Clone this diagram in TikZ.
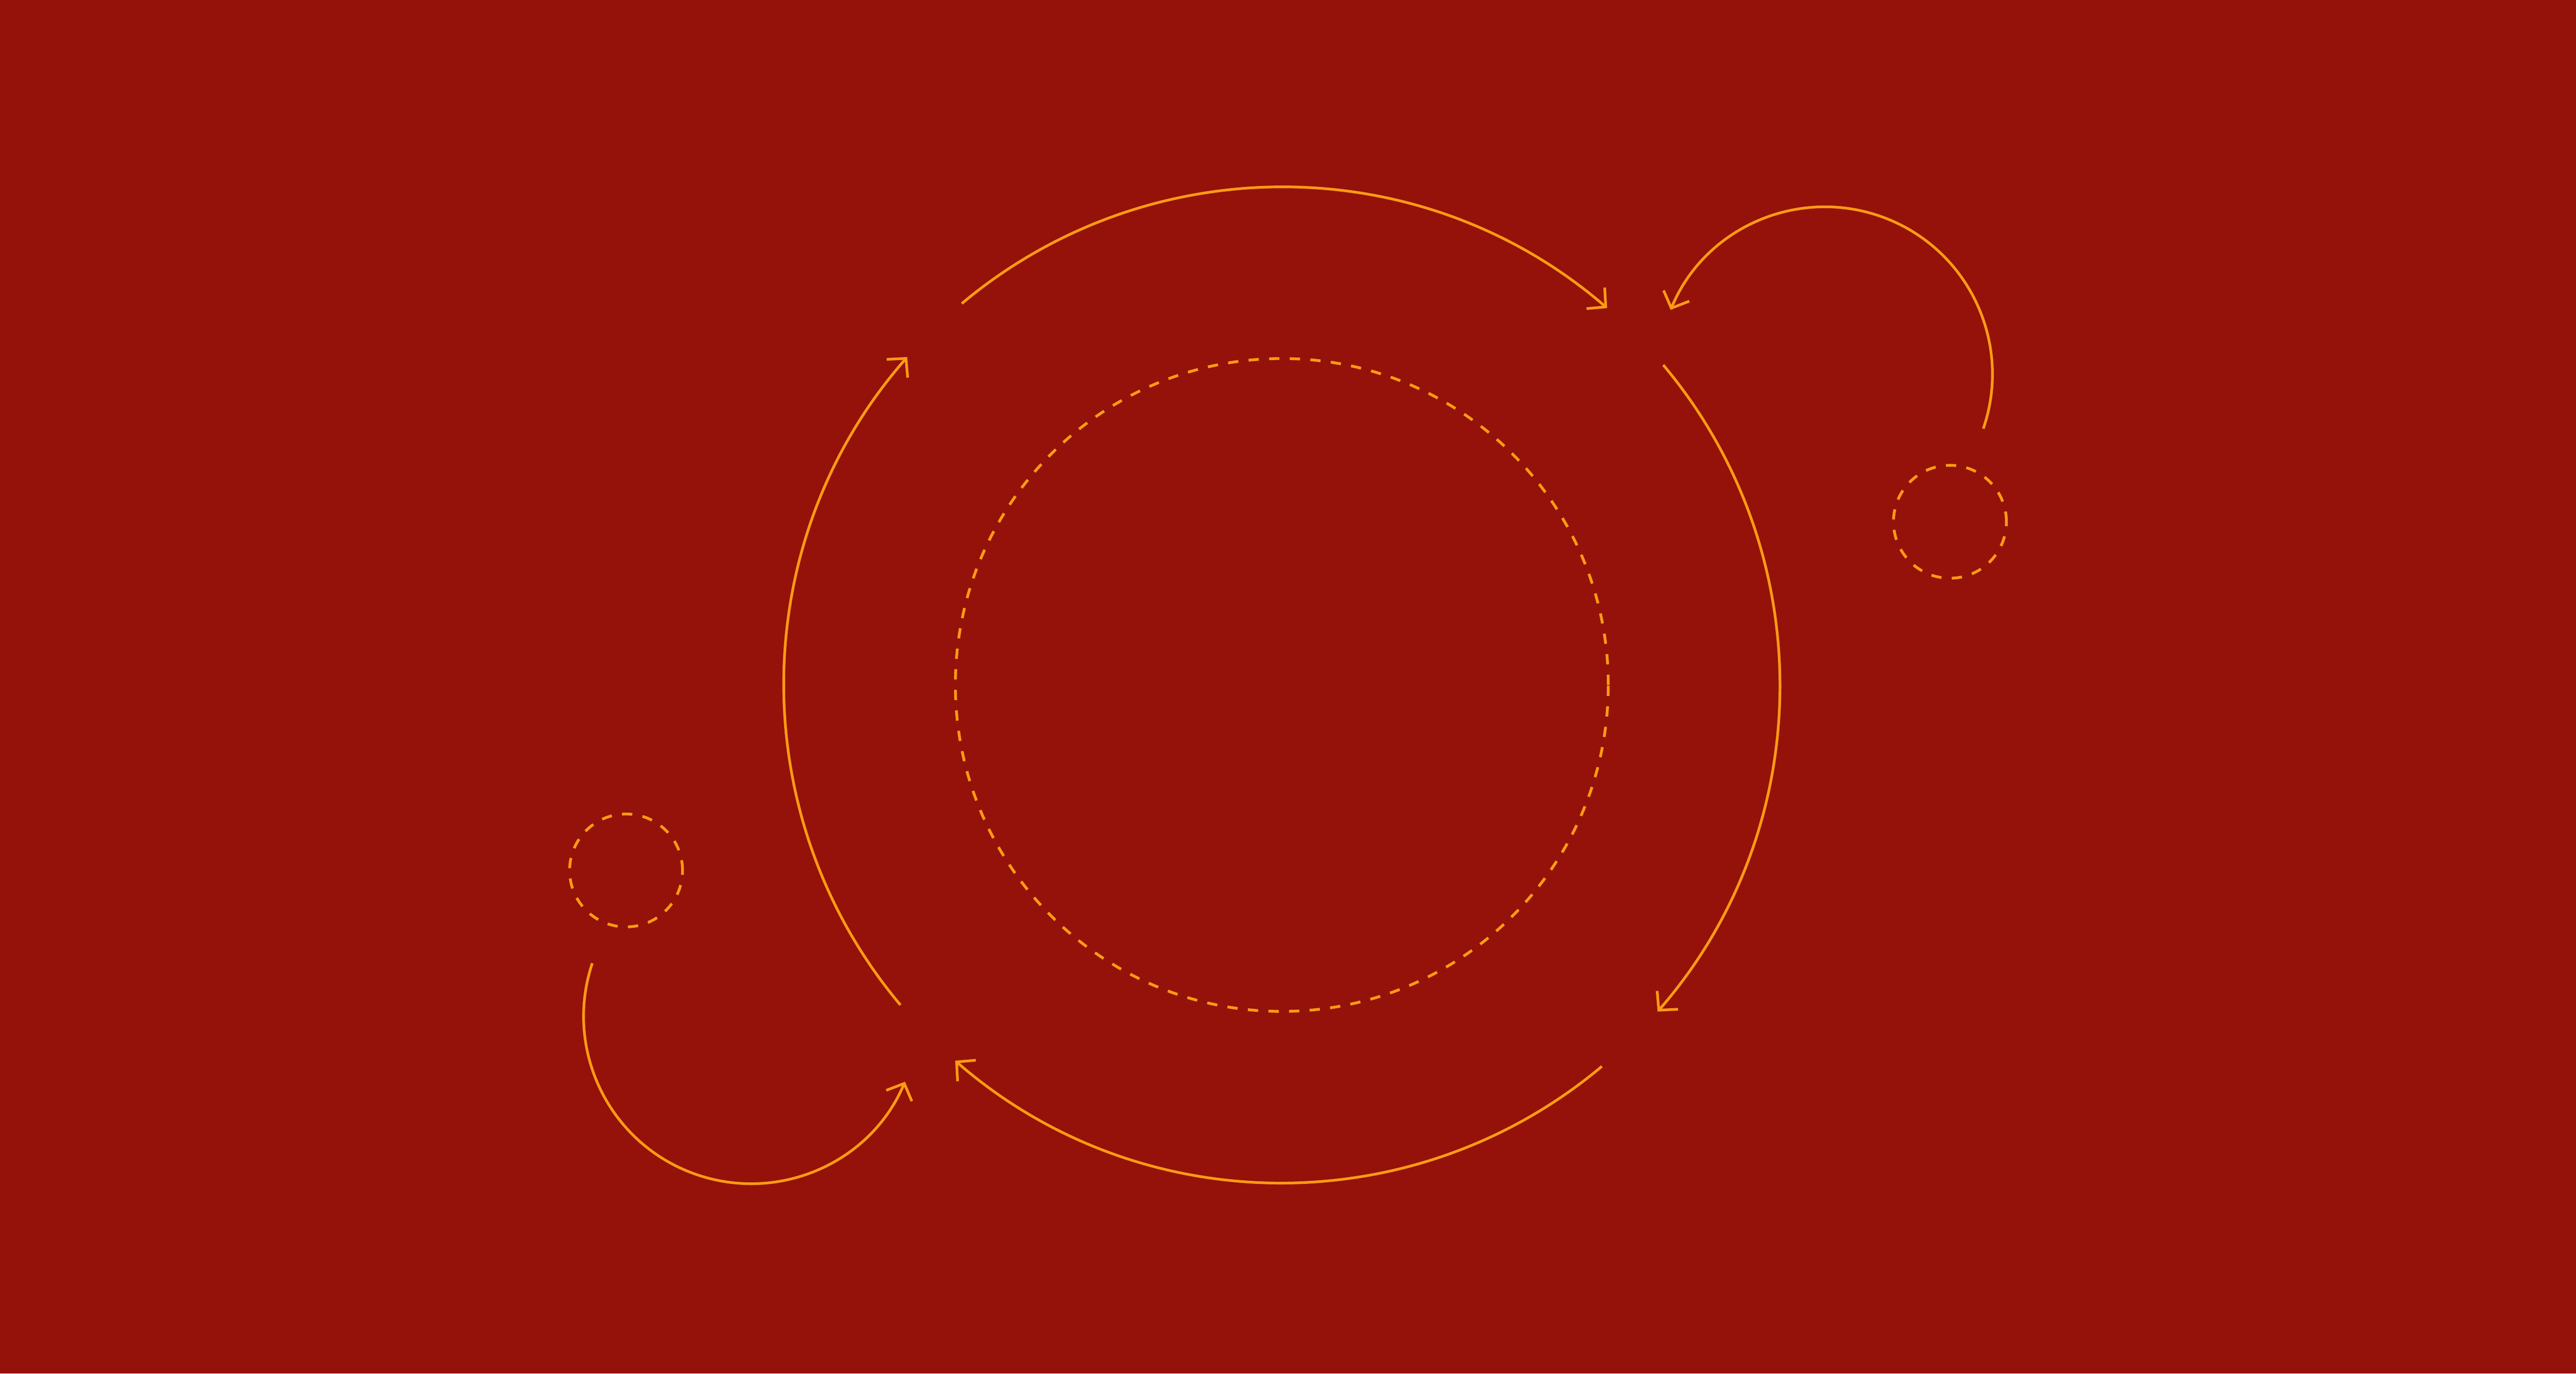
\documentclass[tikz,border=0pt]{standalone}
\usetikzlibrary{arrows.meta}
\definecolor{bgred}{RGB}{148,18,10}
\definecolor{lineorange}{RGB}{255,154,20}
\tikzset{
  flow/.style={draw=lineorange, line width=0.026cm,
    -{Straight Barb[length=0.13cm, width=0.27cm, sharp]}},
  ring/.style={circle, draw=lineorange, line width=0.027cm, inner sep=0pt,
    dash pattern=on 0.1cm off 0.1cm},
}
\begin{document}
\begin{tikzpicture}
\fill[bgred] (0,0) rectangle (25,13.332);
\useasboundingbox (0,0) rectangle (25,13.332);
\def\R{4.832cm}
\def\r{1.624cm}
\coordinate (c) at (12.44,6.684);
\coordinate (tr) at (17.712,9.70);
\coordinate (bl) at (7.288,3.468);
% central dashed circle and small dashed circles
\node[ring, minimum size=6.336cm] (core) at (c) {};
\node[ring, minimum size=1.096cm] (satA) at (18.924,8.268) {};
\node[ring, minimum size=1.096cm] (satB) at (6.076,4.884) {};
% four large arcs, clockwise
\draw[flow] ([shift={(130:\R)}]c) arc[start angle=130, end angle=49.2, radius=\R];
\draw[flow] ([shift={(40:\R)}]c) arc[start angle=40, end angle=-41, radius=\R];
\draw[flow] ([shift={(-50:\R)}]c) arc[start angle=-50, end angle=-131, radius=\R];
\draw[flow] ([shift={(220:\R)}]c) arc[start angle=220, end angle=138.8, radius=\R];
% two small arcs, counter-clockwise
\draw[flow] ([shift={(-19:\r)}]tr) arc[start angle=-19, end angle=157.4, radius=\r];
\draw[flow] ([shift={(161.5:\r)}]bl) arc[start angle=161.5, end angle=337, radius=\r];
\end{tikzpicture}
\end{document}
